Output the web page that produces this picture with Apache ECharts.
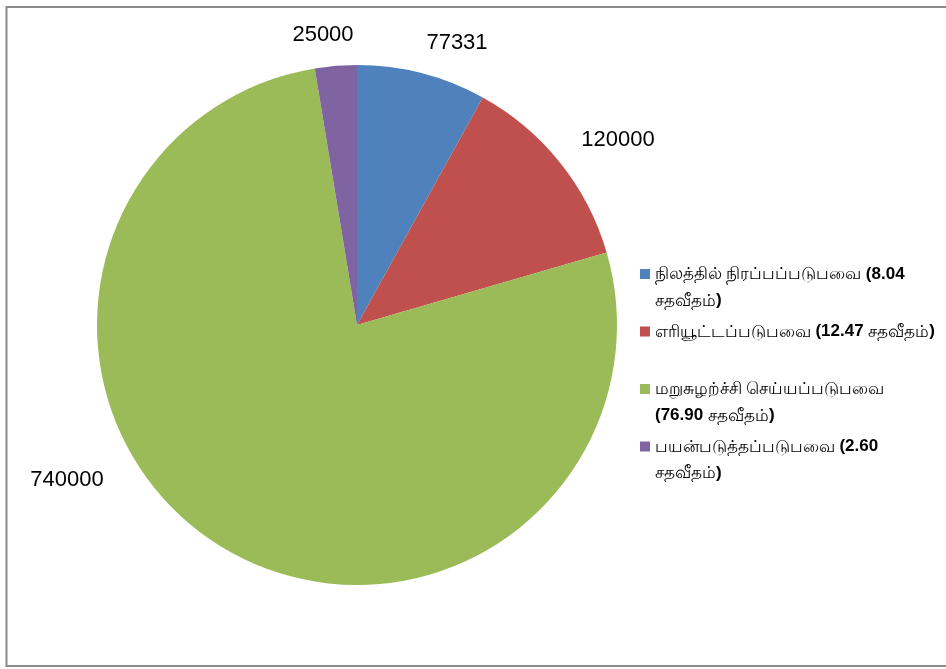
<!DOCTYPE html>
<html>
<head>
<meta charset="utf-8">
<script src="https://cdn.jsdelivr.net/npm/echarts@6/dist/echarts.min.js"></script>
<style>
  html, body { margin: 0; padding: 0; background: #fff; }
  #chart { width: 946px; height: 669px; }
</style>
</head>
<body>
<div id="chart"></div>
<script>
// waste disposal split (values as labelled on the slices)
const categories = [
  "நிலத்தில் நிரப்பப்படுபவை",
  "எரியூட்டப்படுபவை",
  "மறுசுழற்ச்சி செய்யப்படுபவை",
  "பயன்படுத்தப்படுபவை",
];
const values = [77331, 120000, 740000, 25000];
const percents = ["8.04", "12.47", "76.90", "2.60"];
const colors = ["#4F81BD", "#C0504D", "#9BBB59", "#8064A2"];

// legend wrapping as in the original (two lines per entry)
const legendLines = [
  ["{t|நிலத்தில் நிரப்பப்படுபவை }{b|(8.04}", "{t|சதவீதம்}{b|)}"],
  ["{t|எரியூட்டப்படுபவை }{b|(12.47 }{t|சதவீதம்}{b|)}", "{t| }"],
  ["{t|மறுசுழற்ச்சி செய்யப்படுபவை}", "{b|(76.90 }{t|சதவீதம்}{b|)}"],
  ["{t|பயன்படுத்தப்படுபவை }{b|(2.60}", "{t|சதவீதம்}{b|)}"],
];

// label anchor points (Excel "outside end" placement)
const labelAnchors = [
  [457, 43],
  [618, 140],
  [67, 480],
  [323, 35],
];

const lineH = 26.5;
// square at the top line, invisible pads keep the box 2 lines tall
const iconPath =
  "path://M0,8h10v10h-10z M0,0h0.01v0.01h-0.01z M9.99,52.99h0.01v0.01h-0.01z";

const chart = echarts.init(document.getElementById("chart"), null, { renderer: "canvas" });

const option = {
  animation: false,
  color: colors,
  graphic: [
    {
      type: "rect",
      shape: { x: 6.5, y: 7, width: 1000, height: 659 },
      style: { fill: null, stroke: "#8a8a8a", lineWidth: 2 },
      silent: true,
    },
  ],
  legend: {
    orient: "vertical",
    left: 640,
    top: 261,
    itemWidth: 10,
    itemHeight: 53,
    itemGap: 4.5,
    padding: 0,
    data: categories.map((name) => ({ name, icon: iconPath })),
    formatter: (name) => legendLines[categories.indexOf(name)].join("\n"),
    textStyle: {
      color: "#000",
      fontSize: 17,
      lineHeight: lineH,
      rich: {
        t: {
          fontFamily: "'Noto Sans', 'Liberation Sans', sans-serif",
          fontSize: 17,
          lineHeight: lineH,
          color: "#000",
        },
        b: {
          fontFamily: "'Liberation Sans', Arial, sans-serif",
          fontWeight: "bold",
          fontSize: 17,
          lineHeight: lineH,
          color: "#000",
        },
      },
    },
  },
  series: [
    {
      type: "pie",
      center: [357, 325],
      radius: 260,
      startAngle: 90,
      clockwise: true,
      avoidLabelOverlap: false,
      itemStyle: { borderWidth: 0 },
      emphasis: { disabled: true },
      label: {
        show: true,
        position: "outside",
        formatter: (p) => String(p.value),
        color: "#000",
        fontFamily: "'Liberation Sans', Arial, sans-serif",
        fontSize: 22,
      },
      labelLine: { show: false },
      labelLayout: (params) => {
        const a = labelAnchors[params.dataIndex];
        return { x: a[0], y: a[1], align: "center", verticalAlign: "middle" };
      },
      data: categories.map((name, i) => ({ name, value: values[i] })),
    },
  ],
};

chart.setOption(option);
</script>
</body>
</html>
